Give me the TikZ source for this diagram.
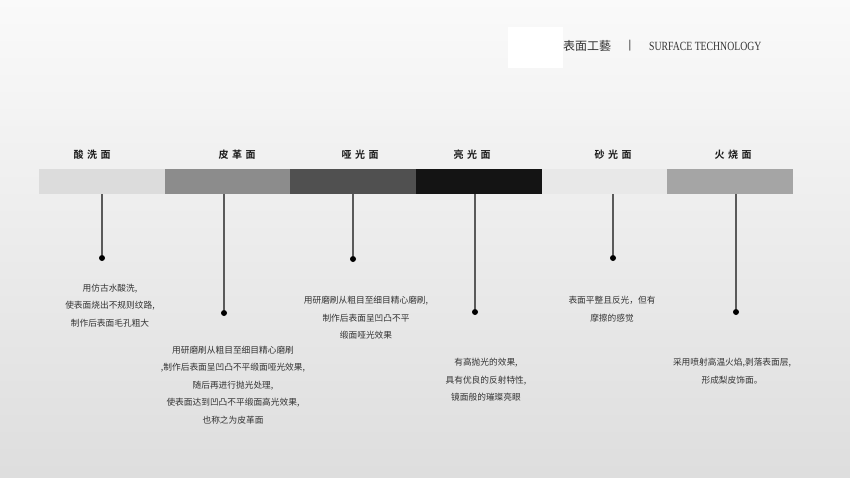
\documentclass[tikz,border=0pt]{standalone}
\usepackage{fontspec}
\setmainfont{Liberation Serif}
\newfontfamily\cjk{Noto Sans CJK SC}
\newfontfamily\cjktag[LetterSpace=35]{Noto Sans CJK SC Bold}

\definecolor{toneA}{HTML}{DCDCDC}
\definecolor{toneB}{HTML}{8C8C8C}
\definecolor{toneC}{HTML}{505050}
\definecolor{toneD}{HTML}{141414}
\definecolor{toneE}{HTML}{E8E8E8}
\definecolor{toneF}{HTML}{A5A5A5}
\definecolor{stemgray}{HTML}{5A5A5A}
\definecolor{notegray}{HTML}{333333}

\tikzset{
  stem/.style={draw=stemgray,line width=1.1pt},
  knob/.style={circle,fill=black,inner sep=0pt,minimum size=6pt},
  note/.style={font=\cjk\fontsize{8.7}{17.5}\selectfont,text=notegray,align=center,inner sep=0pt},
  tag/.style={font=\cjktag\fontsize{10}{12}\selectfont,text=black!90,inner sep=0pt},
}

\begin{document}
\begin{tikzpicture}[x=1pt,y=-1pt]
\useasboundingbox (0,0) rectangle (850,477);
\shade[top color=white!98!black,middle color=black!5,bottom color=black!13] (0,0) rectangle (850,477);
\fill[white] (508,27) rectangle (563,68);
% title
\node[font=\cjk\fontsize{12}{14}\selectfont,text=notegray,anchor=west,inner sep=0pt] (title) at (563,46) {表面工藝};
\node[font=\bfseries\fontsize{12}{14}\selectfont,text=notegray,inner sep=0pt] (bar) at (630,46) {|};
\node[font=\fontsize{12.5}{14}\selectfont,text=notegray,anchor=west,inner sep=0pt,xscale=.78] (eng) at (649,46.5) {SURFACE TECHNOLOGY};
% bar segments
\fill[toneA] (39,169) rectangle (165,194);
\fill[toneB] (165,169) rectangle (290,194);
\fill[toneC] (290,169) rectangle (416,194);
\fill[toneD] (416,169) rectangle (542,194);
\fill[toneE] (542,169) rectangle (667,194);
\fill[toneF] (667,169) rectangle (793,194);
% labels
\node[tag] (t1) at (92,155) {酸洗面};
\node[tag] (t2) at (237,155) {皮革面};
\node[tag] (t3) at (360,155) {哑光面};
\node[tag] (t4) at (472,155) {亮光面};
\node[tag] (t5) at (613,155) {砂光面};
\node[tag] (t6) at (733,155) {火烧面};
% stems
\coordinate (s1) at (102,194);
\coordinate (s2) at (224,194);
\coordinate (s3) at (353,194);
\coordinate (s4) at (475,194);
\coordinate (s5) at (613,194);
\coordinate (s6) at (736,194);
\node[knob] (k1) at (102,258) {};
\node[knob] (k2) at (224,313) {};
\node[knob] (k3) at (353,259) {};
\node[knob] (k4) at (475,312) {};
\node[knob] (k5) at (613,258) {};
\node[knob] (k6) at (736,312) {};
\draw[stem] (s1)--(k1);
\draw[stem] (s2)--(k2);
\draw[stem] (s3)--(k3);
\draw[stem] (s4)--(k4);
\draw[stem] (s5)--(k5);
\draw[stem] (s6)--(k6);
% notes
\node[note] (n1) at (110,305.5) {用仿古水酸洗,\\使表面烧出不规则纹路,\\制作后表面毛孔粗大};
\node[note] (n2) at (233,385) {用研磨刷从粗目至细目精心磨刷\\,制作后表面呈凹凸不平缎面哑光效果,\\随后再进行抛光处理,\\使表面达到凹凸不平缎面高光效果,\\也称之为皮革面};
\node[note] (n3) at (366,318) {用研磨刷从粗目至细目精心磨刷,\\制作后表面呈凹凸不平\\缎面哑光效果};
\node[note] (n4) at (486,380) {有高抛光的效果,\\具有优良的反射特性,\\镜面般的璀璨亮眼};
\node[note] (n5) at (612,309) {表面平整且反光，但有\\摩擦的感觉};
\node[note] (n6) at (732,371) {采用喷射高温火焰,剥落表面层,\\形成梨皮饰面。};
\end{tikzpicture}
\end{document}
